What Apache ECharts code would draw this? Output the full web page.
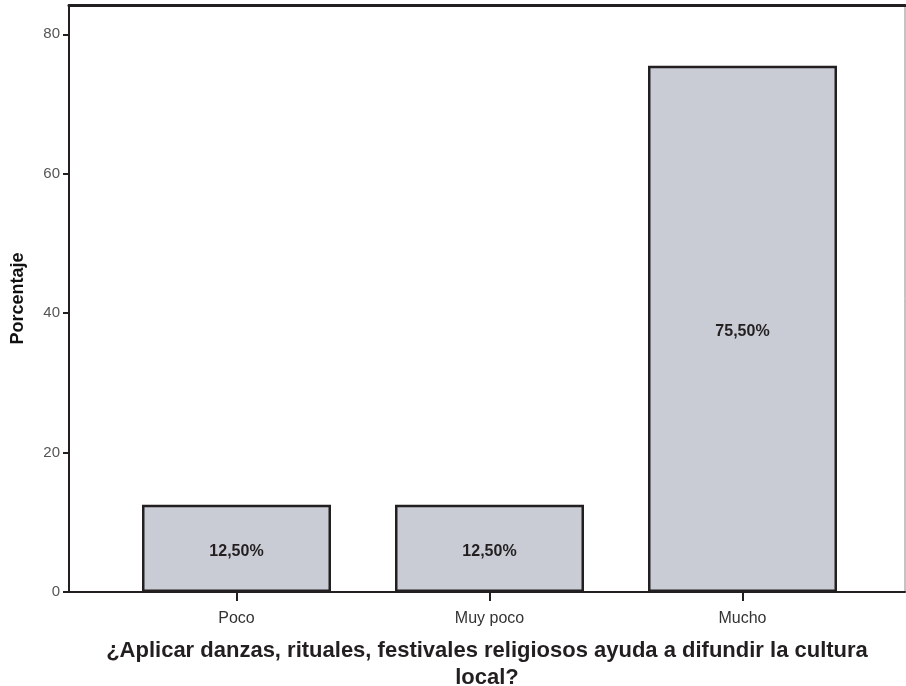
<!DOCTYPE html>
<html>
<head>
<meta charset="utf-8">
<script src="https://cdn.jsdelivr.net/npm/echarts@6/dist/echarts.min.js"></script>
<style>html,body{margin:0;padding:0;background:#fff}#c{width:906px;height:686px}</style>
</head>
<body>
<div id="c"></div>
<script>
const categories = ['Poco', 'Muy poco', 'Mucho'];
const values = [12.5, 12.5, 75.5];
const yTicks = [0, 20, 40, 60, 80];
const xTitle = '¿Aplicar danzas, rituales, festivales religiosos ayuda a difundir la cultura\nlocal?';
const yTitle = 'Porcentaje';

const FONT = '"Liberation Sans", Arial, Helvetica, sans-serif';
const Y_MAX = 84.2;
const chart = echarts.init(document.getElementById('c'), null, {renderer: 'canvas'});
chart.setOption({
  animation: false,
  backgroundColor: '#fff',
  grid: [
    {left: 69, right: 1, top: 5, bottom: 94, show: true, borderColor: '#888', borderWidth: 1,
     containLabel: false, outerBoundsMode: 'none'},
    {left: 110, right: 37, top: 5, bottom: 94, show: false,
     containLabel: false, outerBoundsMode: 'none'}
  ],
  xAxis: [{
    gridIndex: 0,
    type: 'category',
    data: [''],
    axisLine: {lineStyle: {color: '#231f20', width: 2}},
    axisTick: {show: false},
    axisLabel: {show: false},
    name: xTitle,
    nameLocation: 'middle',
    nameGap: 45,
    nameTextStyle: {fontSize: 22, fontWeight: 'bold', color: '#231f20', fontFamily: FONT, lineHeight: 27, align: 'center'}
  }, {
    gridIndex: 0,
    type: 'category',
    data: [''],
    position: 'top',
    axisLine: {lineStyle: {color: '#231f20', width: 3}},
    axisTick: {show: false},
    axisLabel: {show: false}
  }, {
    gridIndex: 1,
    type: 'category',
    data: categories,
    axisLine: {show: false},
    axisTick: {show: true, alignWithLabel: true, length: 9, lineStyle: {color: '#231f20', width: 2}},
    axisLabel: {color: '#333', fontSize: 16, fontFamily: FONT, margin: 19}
  }],
  yAxis: [{
    gridIndex: 0,
    type: 'value',
    min: 0,
    max: Y_MAX,
    interval: 20,
    splitLine: {show: false},
    axisLine: {show: true, lineStyle: {color: '#231f20', width: 2}},
    axisTick: {show: true, length: 6, customValues: yTicks, lineStyle: {color: '#231f20', width: 2}},
    axisLabel: {color: '#555', fontSize: 15, fontFamily: FONT, margin: 9, customValues: yTicks},
    name: yTitle,
    nameLocation: 'middle',
    nameGap: 42,
    nameRotate: 90,
    nameTextStyle: {fontSize: 18, fontWeight: 'bold', color: '#111', fontFamily: FONT}
  }, {
    gridIndex: 1,
    type: 'value',
    min: 0,
    max: Y_MAX,
    show: false
  }],
  series: [{
    type: 'bar',
    xAxisIndex: 2,
    yAxisIndex: 1,
    data: values,
    barWidth: 189,
    itemStyle: {color: '#c9ccd5', borderColor: '#231f20', borderWidth: 2.5},
    label: {
      show: true,
      position: 'inside',
      offset: [0, 3],
      formatter: p => p.value.toFixed(2).replace('.', ',') + '%',
      fontSize: 16,
      fontWeight: 'bold',
      color: '#231f20',
      fontFamily: FONT
    }
  }]
});
</script>
</body>
</html>
